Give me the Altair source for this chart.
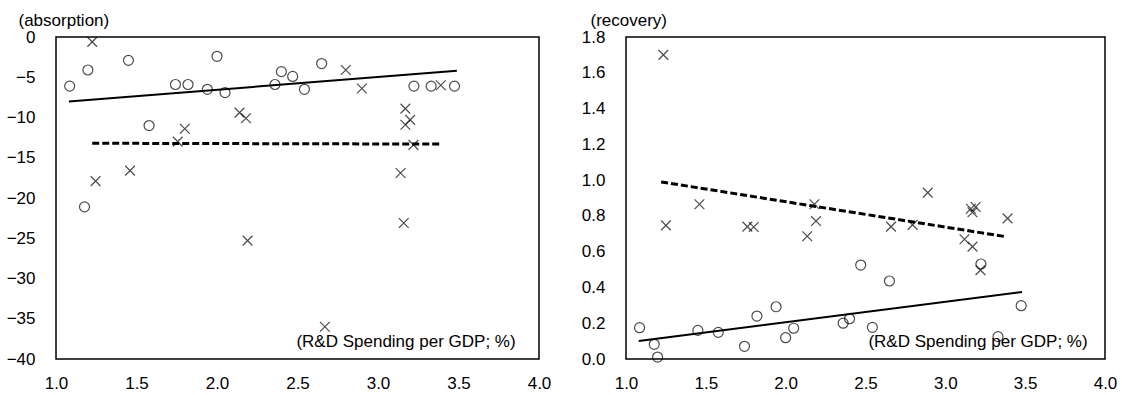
import altair as alt
import pandas as pd

# ---- data ----
# group shown with open circles (same economies in both panels)
circ_x = [1.085, 1.177, 1.198, 1.45, 1.578, 1.742, 1.82, 1.94, 2.00, 2.05,
          2.36, 2.40, 2.47, 2.543, 2.65, 3.223, 3.33, 3.475]
circ_abs = [-6.1, -21.1, -4.1, -2.9, -11.0, -5.9, -5.9, -6.5, -2.4, -6.9,
            -5.9, -4.3, -4.9, -6.5, -3.3, -6.1, -6.1, -6.1]
circ_rec = [0.175, 0.082, 0.011, 0.16, 0.149, 0.071, 0.24, 0.292, 0.119, 0.172,
            0.20, 0.225, 0.525, 0.177, 0.436, 0.531, 0.125, 0.298]

# group shown with crosses
crossA_x = [1.225, 1.246, 1.46, 1.756, 1.80, 2.14, 2.18, 2.19, 2.67, 2.80,
            2.90, 3.14, 3.16, 3.17, 3.17, 3.20, 3.22, 3.39]
crossA_y = [-0.6, -17.9, -16.6, -13.0, -11.4, -9.4, -10.1, -25.3, -36.0, -4.1,
            -6.4, -16.9, -23.1, -8.9, -10.9, -10.3, -13.4, -6.0]
crossR_x = [1.234, 1.25, 1.46, 1.76, 1.80, 2.135, 2.18, 2.19, 2.66, 2.795,
            2.89, 3.12, 3.16, 3.17, 3.17, 3.19, 3.22, 3.39]
crossR_y = [1.70, 0.747, 0.865, 0.74, 0.738, 0.686, 0.865, 0.771, 0.74, 0.75,
            0.93, 0.669, 0.84, 0.82, 0.628, 0.85, 0.497, 0.786]

# fitted trend lines (end points)
absSolid_x = [1.08, 3.49]
absSolid_y = [-8.0, -4.2]
absDash_x = [1.225, 3.39]
absDash_y = [-13.2, -13.3]
recSolid_x = [1.08, 3.48]
recSolid_y = [0.10, 0.375]
recDash_x = [1.22, 3.37]
recDash_y = [0.99, 0.685]

x_ticks = [1.0, 1.5, 2.0, 2.5, 3.0, 3.5, 4.0]
abs_ticks = [-40, -35, -30, -25, -20, -15, -10, -5, 0]
rec_ticks = [0.0, 0.2, 0.4, 0.6, 0.8, 1.0, 1.2, 1.4, 1.6, 1.8]
x_note = "(R&D Spending per GDP; %)"

FONT = "Liberation Sans, Arial, sans-serif"
FS = 17
CROSS = "M-1,-1L1,1M-1,1L1,-1"
H = 322


def panel(cx, cy, xx, xy, sx, sy, dx, dy, ydom, yticks, yfmt, ytitle, title_x, width, note_x):
    xenc = alt.X("x:Q", scale=alt.Scale(domain=[1, 4], nice=False, zero=False),
                 axis=alt.Axis(values=x_ticks, format=".1f", title=None, labelPadding=16,
                               labelFlush=False))
    yenc = alt.Y("y:Q", scale=alt.Scale(domain=ydom, nice=False, zero=False),
                 axis=alt.Axis(values=yticks, format=yfmt, title=ytitle, titleAngle=0,
                               titleX=title_x, titleY=-17, titleAlign="left",
                               titleBaseline="middle", labelPadding=21, labelFlush=False))
    circles = alt.Chart(pd.DataFrame({"x": cx, "y": cy})).mark_point(
        shape="circle", filled=False, color="black", size=100, strokeWidth=1.2
    ).encode(x=xenc, y=yenc)
    crosses = alt.Chart(pd.DataFrame({"x": xx, "y": xy})).mark_point(
        shape=CROSS, filled=False, color="black", size=95, strokeWidth=1.2
    ).encode(x=xenc, y=yenc)
    solid = alt.Chart(pd.DataFrame({"x": sx, "y": sy})).mark_line(
        color="black", strokeWidth=2
    ).encode(x=xenc, y=yenc)
    dash = alt.Chart(pd.DataFrame({"x": dx, "y": dy})).mark_line(
        color="black", strokeWidth=3, strokeDash=[7, 3]
    ).encode(x=xenc, y=yenc)
    note = alt.Chart(pd.DataFrame({"t": [x_note]})).mark_text(
        align="center", baseline="middle", font=FONT, fontSize=FS, color="black"
    ).encode(text="t:N", x=alt.value(note_x), y=alt.value(305))
    return alt.layer(solid, dash, circles, crosses, note).properties(width=width, height=H)


left = panel(circ_x, circ_abs, crossA_x, crossA_y, absSolid_x, absSolid_y, absDash_x, absDash_y,
             [-40, 0], abs_ticks, "d", "(absorption)", -38, 483, 350)
right = panel(circ_x, circ_rec, crossR_x, crossR_y, recSolid_x, recSolid_y, recDash_x, recDash_y,
              [0, 1.8], rec_ticks, ".1f", "(recovery)", -36, 479, 352)

chart = alt.hconcat(left, right, spacing=87, bounds="flush").properties(
    padding={"left": 5, "top": 10, "right": 2, "bottom": 2}
).configure_view(
    stroke="black", strokeWidth=1.5
).configure_axis(
    labelFont=FONT, labelFontSize=FS, labelColor="black",
    titleFont=FONT, titleFontSize=FS, titleColor="black", titleFontWeight="normal",
    ticks=False, tickSize=0, domain=False, grid=False
)

chart.save("out.html", embed_options={"renderer": "svg", "actions": False})
